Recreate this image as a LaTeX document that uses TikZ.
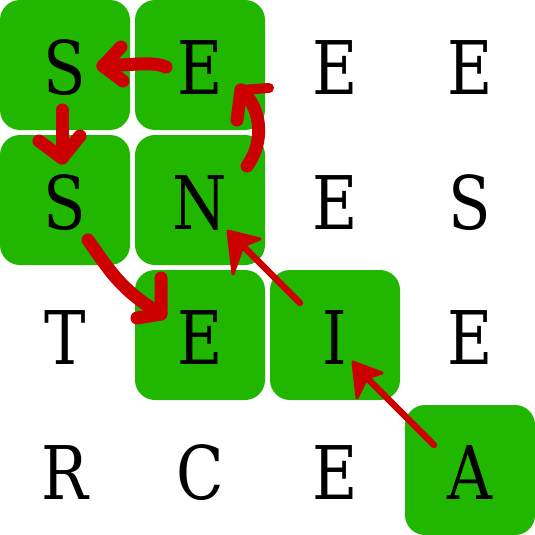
\documentclass[tikz,border=0pt]{standalone}
\usepackage{fontspec}
\setmainfont{DejaVu Serif}[FakeStretch=0.84]
\definecolor{cellgreen}{RGB}{33,182,0}
\definecolor{arrred}{RGB}{204,0,0}
\begin{document}
\begin{tikzpicture}[x=1pt,y=-1pt,
  cell/.style={minimum size=130pt, inner sep=0pt, rounded corners=20pt,
    text height=58pt, text depth=0pt, font=\fontsize{74}{80}\selectfont},
  oncell/.style={cell, fill=cellgreen},
  bigarrow/.style={draw=arrred, line width=13pt, line cap=round, line join=round},
  thinshaft/.style={draw=arrred, line width=6.5pt, line cap=round},
  trihead/.style={fill=arrred, draw=arrred, line width=3pt, line join=round}]
\useasboundingbox (0,0) rectangle (535,535);
% row 0
\node[oncell] (c00) at (65,65) {S};
\node[oncell] (c10) at (200,65) {E};
\node[cell]   (c20) at (335,65) {E};
\node[cell]   (c30) at (470,65) {E};
% row 1
\node[oncell] (c01) at (65,200) {S};
\node[oncell] (c11) at (200,200) {N};
\node[cell]   (c21) at (335,200) {E};
\node[cell]   (c31) at (470,200) {S};
% row 2
\node[cell]   (c02) at (65,335) {T};
\node[oncell] (c12) at (200,335) {E};
\node[oncell] (c22) at (335,335) {I};
\node[cell]   (c32) at (470,335) {E};
% row 3
\node[cell]   (c03) at (65,470) {R};
\node[cell]   (c13) at (200,470) {C};
\node[cell]   (c23) at (335,470) {E};
\node[oncell] (c33) at (470,470) {A};

% arrow A -> I
\coordinate (a1s) at (434,445);
\coordinate (a1n) at (367,378);
\coordinate (a1t) at (353,362);
\coordinate (a1l) at (357,398);
\coordinate (a1r) at (382,373);
\draw[thinshaft] (a1s) -- (a1n);
\draw[trihead] (a1t) -- (a1l) -- (a1n) -- (a1r) -- cycle;

% arrow I -> N
\coordinate (a2s) at (300,303);
\coordinate (a2n) at (243,246);
\coordinate (a2t) at (228,231);
\coordinate (a2l) at (233,274);
\coordinate (a2r) at (260,239);
\draw[thinshaft] (a2s) -- (a2n);
\draw[trihead] (a2t) -- (a2l) -- (a2n) -- (a2r) -- cycle;

% arrow N -> E (top)
\coordinate (a3s) at (247,166);
\coordinate (a3t) at (241,90);
\coordinate (a3l) at (237,120);
\coordinate (a3r) at (269,88);
\draw[bigarrow] (a3s) .. controls (263,145) and (264,110) .. (a3t);
\draw[bigarrow] (a3l) -- (a3t);
\draw[arrred, line width=10pt, line cap=round, line join=round] (a3t) -- (a3r);

% arrow E -> S (top row)
\coordinate (a4s) at (166,67);
\coordinate (a4t) at (103,66);
\coordinate (a4u) at (121,47);
\coordinate (a4d) at (123,81);
\draw[bigarrow] (a4s) .. controls (155,62) and (140,64) .. (a4t);
\draw[bigarrow] (a4u) -- (a4t) -- (a4d);

% arrow S -> S (left column)
\coordinate (a5s) at (62,110);
\coordinate (a5t) at (62,158);
\coordinate (a5l) at (39,141);
\coordinate (a5r) at (80,136);
\draw[bigarrow] (a5s) -- (a5t);
\draw[bigarrow] (a5l) -- (a5t) -- (a5r);

% arrow S -> E (diagonal, curved)
\coordinate (a6s) at (88,240);
\coordinate (a6t) at (161,314);
\coordinate (a6u) at (161,278);
\coordinate (a6l) at (137,318);
\draw[bigarrow] (a6s) .. controls (108,268) and (120,290) .. (a6t);
\draw[bigarrow] (a6u) -- (a6t) -- (a6l);
\end{tikzpicture}
\end{document}
